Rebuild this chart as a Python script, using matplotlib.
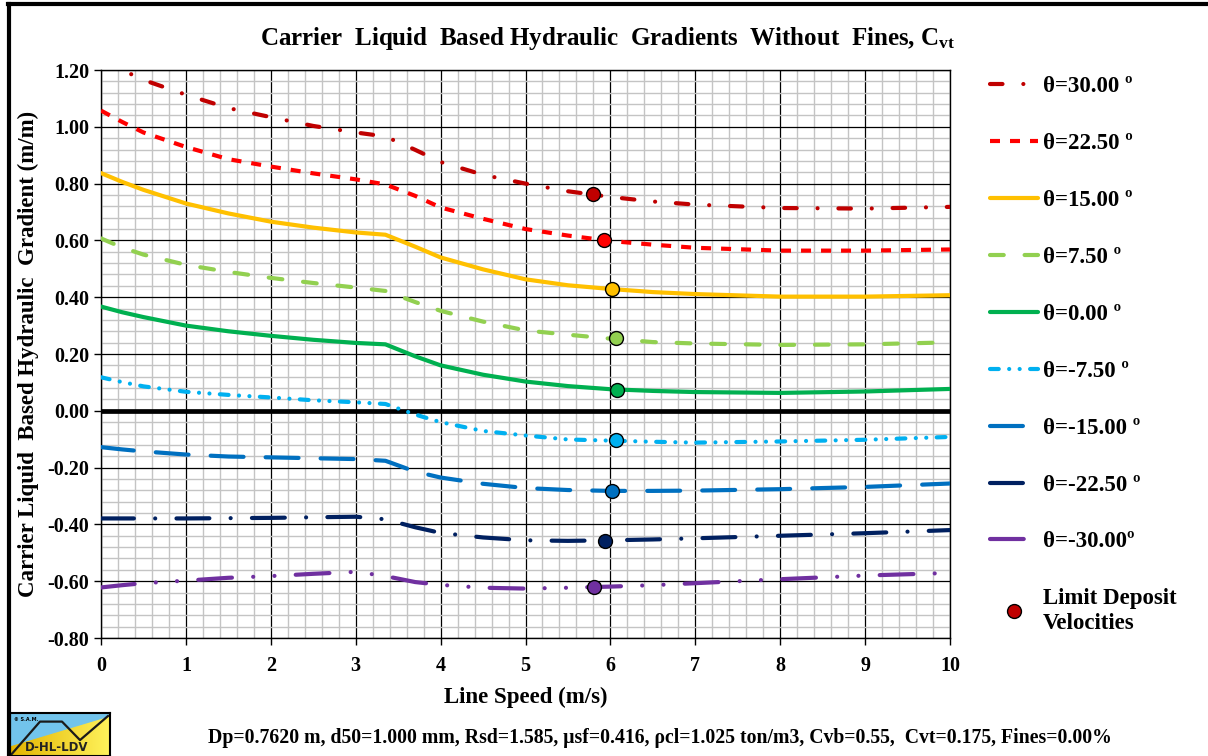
"""Carrier liquid based hydraulic gradients vs line speed for several pipe inclinations."""

import matplotlib
matplotlib.use("Agg")
import matplotlib.pyplot as plt
import numpy as np
from matplotlib.lines import Line2D
from matplotlib.ticker import MultipleLocator, FormatStrFormatter

plt.rcParams["font.family"] = ["Liberation Serif", "DejaVu Serif"]
plt.rcParams["font.weight"] = "bold"
plt.rcParams["mathtext.fontset"] = "custom"
plt.rcParams["mathtext.rm"] = "Liberation Serif:bold"
plt.rcParams["mathtext.it"] = "Liberation Serif:bold"
plt.rcParams["mathtext.bf"] = "Liberation Serif:bold"

# line speed (m/s)
speed = [0, 0.25, 0.5, 1, 1.5, 2, 2.5, 3, 3.35, 3.7, 4, 4.5, 5, 5.5, 6, 6.5, 7, 8, 9, 10]

# hydraulic gradient per inclination angle (m/m)
i_p30 = [1.235, 1.200, 1.165, 1.113, 1.066, 1.034, 1.003, 0.980, 0.966, 0.919, 0.876, 0.831,
         0.800, 0.773, 0.753, 0.737, 0.726, 0.714, 0.712, 0.718]
i_p225 = [1.057, 1.017, 0.980, 0.929, 0.886, 0.860, 0.836, 0.815, 0.797, 0.757, 0.716, 0.676,
          0.640, 0.617, 0.598, 0.585, 0.574, 0.564, 0.564, 0.568]
i_p15 = [0.837, 0.806, 0.778, 0.730, 0.695, 0.666, 0.645, 0.628, 0.620, 0.578, 0.540, 0.498,
         0.463, 0.442, 0.429, 0.418, 0.411, 0.402, 0.402, 0.407]
i_p75 = [0.607, 0.575, 0.550, 0.514, 0.489, 0.468, 0.450, 0.434, 0.422, 0.383, 0.352, 0.314,
         0.283, 0.268, 0.254, 0.242, 0.237, 0.232, 0.234, 0.241]
i_0 = [0.367, 0.347, 0.330, 0.300, 0.280, 0.264, 0.250, 0.239, 0.234, 0.192, 0.160, 0.127,
       0.103, 0.087, 0.076, 0.070, 0.066, 0.063, 0.068, 0.077]
i_m75 = [0.118, 0.101, 0.086, 0.067, 0.056, 0.047, 0.037, 0.030, 0.024, -0.013, -0.040, -0.071,
         -0.087, -0.101, -0.105, -0.109, -0.112, -0.108, -0.102, -0.092]
i_m15 = [-0.128, -0.136, -0.143, -0.154, -0.161, -0.164, -0.167, -0.170, -0.176, -0.214, -0.235,
         -0.257, -0.272, -0.279, -0.282, -0.282, -0.281, -0.276, -0.268, -0.256]
i_m225 = [-0.379, -0.379, -0.379, -0.379, -0.378, -0.377, -0.375, -0.373, -0.382, -0.410, -0.430,
          -0.446, -0.456, -0.458, -0.456, -0.453, -0.449, -0.440, -0.431, -0.420]
i_m30 = [-0.622, -0.614, -0.607, -0.598, -0.588, -0.582, -0.574, -0.567, -0.582, -0.603, -0.613,
         -0.623, -0.626, -0.623, -0.619, -0.614, -0.607, -0.593, -0.580, -0.571]

# limit deposit velocities (m/s) and gradient there, same order as the curves
ldv_speed = [5.80, 5.93, 6.02, 6.07, 6.08, 6.07, 6.02, 5.94, 5.81]
ldv_grad = [0.764, 0.600, 0.428, 0.256, 0.074, -0.104, -0.283, -0.457, -0.621]

labels = ["θ=30.00 º", "θ=22.50 º", "θ=15.00 º", "θ=7.50 º", "θ=0.00 º",
          "θ=-7.50 º", "θ=-15.00 º", "θ=-22.50 º", "θ=-30.00º"]
series = [i_p30, i_p225, i_p15, i_p75, i_0, i_m75, i_m15, i_m225, i_m30]

colors = ["#C00000", "#FF0000", "#FFC000", "#92D050", "#00B050",
          "#00B0F0", "#0070C0", "#002060", "#7030A0"]
# dash patterns in linewidth units (None = solid)
dash_styles = [(3, 5, 0.01, 5), (2.4, 2.4), None, (3.3, 5), None,
               (2.1, 2.5, 0.01, 2.5, 0.01, 2.5), (7.9, 5.3), (7.9, 5.1, 0.01, 5.1),
               (8.1, 5.1, 0.01, 5.1, 0.01, 5.1)]
capstyles = ["round", "butt", "round", "round", "round", "round", "round", "round", "round"]

W, H = 1208, 756
fig = plt.figure(figsize=(W / 100, H / 100), dpi=100)
ax = fig.add_axes([101 / W, 1 - 638 / H, 849 / W, 568 / H])

ax.set_xlim(0, 10)
ax.set_ylim(-0.8, 1.2)
ax.xaxis.set_major_locator(MultipleLocator(1))
ax.xaxis.set_minor_locator(MultipleLocator(0.2))
ax.yaxis.set_major_locator(MultipleLocator(0.2))
ax.yaxis.set_minor_locator(MultipleLocator(0.04))
ax.yaxis.set_major_formatter(FormatStrFormatter("%.2f"))
ax.grid(which="minor", color="#C4C4C4", lw=1.0)
ax.grid(which="major", color="black", lw=0.9)
ax.set_axisbelow(True)
ax.tick_params(which="major", direction="out", length=5, width=1, labelsize=14.5)
ax.tick_params(axis="x", pad=8)
ax.tick_params(which="minor", length=0)
for lab in ax.get_xticklabels() + ax.get_yticklabels():
    lab.set_fontweight("bold")
for sp in ax.spines.values():
    sp.set_color("black")
    sp.set_linewidth(1)

ax.axhline(0, color="black", lw=3.4, zorder=2)

handles = []
for y, c, d, cs, lab in zip(series, colors, dash_styles, capstyles, labels):
    if d is None:
        ln, = ax.plot(speed, y, color=c, lw=3, solid_capstyle="round", label=lab, zorder=3)
    else:
        ln, = ax.plot(speed, y, color=c, lw=3, dashes=d, dash_capstyle=cs, label=lab, zorder=3)
    handles.append(ln)

for xs, ys, c in zip(ldv_speed, ldv_grad, colors):
    ax.plot(xs, ys, "o", ms=10, mfc=c, mec="black", mew=1, zorder=5)

ldv_handle = Line2D([], [], ls="none", marker="o", ms=10, mfc="#C00000", mec="black", mew=1)
leg = ax.legend(handles + [ldv_handle], labels + ["Limit Deposit\nVelocities"],
                loc="upper left", bbox_to_anchor=(981 / W, 1 - 67 / H),
                bbox_transform=fig.transFigure, frameon=False, fontsize=16.5,
                handlelength=2.1, handletextpad=0.2, labelspacing=1.565, borderaxespad=0)
for t in leg.get_texts():
    t.set_fontweight("bold")
    t.set_linespacing(1.25)

ax.set_xlabel("Line Speed (m/s)", fontsize=16.5, fontweight="bold", labelpad=8)
ax.set_ylabel("Carrier Liquid  Based Hydraulic  Gradient (m/m)", fontsize=16.5,
              fontweight="bold", labelpad=6)
fig.text(0.503, 1 - 38 / H,
         "Carrier  Liquid  Based Hydraulic  Gradients  Without  Fines, C$_{\\mathrm{vt}}$",
         ha="center", va="center", fontsize=18, fontweight="bold")
fig.text(660 / W, 1 - 738 / H,
         "Dp=0.7620 m, d50=1.000 mm, Rsd=1.585, μsf=0.416, ρcl=1.025 ton/m3, "
         "Cvb=0.55,  Cvt=0.175, Fines=0.00%",
         ha="center", va="center", fontsize=14.2, fontweight="bold")

# figure frame (top and left edges visible)
fig.add_artist(Line2D([8 / W, 1], [1 - 4 / H, 1 - 4 / H], color="black", lw=3))
fig.add_artist(Line2D([9 / W, 9 / W], [0, 1 - 4 / H], color="black", lw=3))

# logo
lg = fig.add_axes([10 / W, 0, 100 / W, 43 / H])
lg.set_xlim(0, 1)
lg.set_ylim(0, 1)
grad = np.linspace(0, 1, 100).reshape(1, -1)
lg.imshow(grad, extent=(0, 1, 0, 1), aspect="auto", zorder=0,
          cmap=matplotlib.colors.LinearSegmentedColormap.from_list("lg", ["#E2B400", "#FFF35C"]))
lg.fill([0, 0, 1, 1], [0.26, 1, 1, 0.95], color="#72C4EC", zorder=1)
lg.plot([0, 0.30, 0.52, 0.70, 0.98], [0, 0.80, 0.80, 0.37, 0.93], color="#1a1a1a", lw=1.6, zorder=2)
lg.text(0.47, 0.2, "D-HL-LDV", ha="center", va="center", fontsize=8.5, fontweight="bold",
        family="DejaVu Sans", color="#222222", zorder=3)
lg.text(0.04, 0.84, "© S.A.M.", ha="left", va="center", fontsize=3.5, family="DejaVu Sans", zorder=3)
lg.set_xticks([])
lg.set_yticks([])
for sp in lg.spines.values():
    sp.set_linewidth(1.5)

fig.savefig("out.png", dpi=100)
